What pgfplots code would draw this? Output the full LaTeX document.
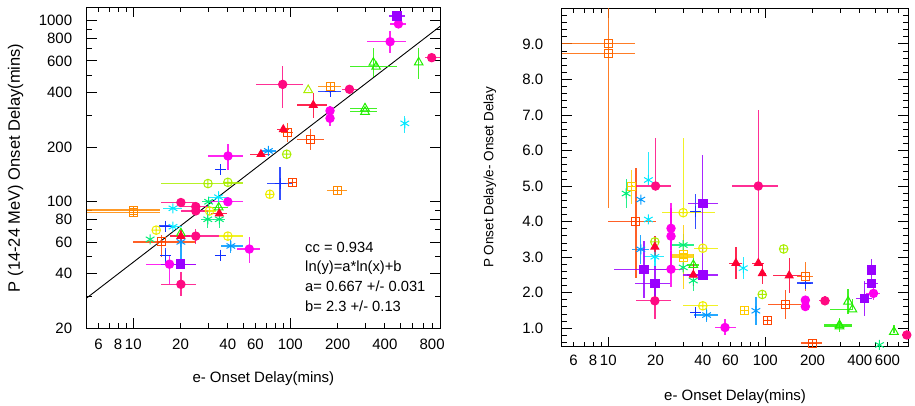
\documentclass[border=0pt]{standalone}
\usepackage{pgfplots}
\pgfplotsset{compat=1.18}
\usepackage{pgfplotstable}
\usepackage{fontspec}
\setmainfont{Liberation Sans}

\pgfdeclareplotmark{boxplus}{%
  \pgfpathrectangle{\pgfqpoint{-\pgfplotmarksize}{-\pgfplotmarksize}}{\pgfqpoint{2\pgfplotmarksize}{2\pgfplotmarksize}}%
  \pgfpathmoveto{\pgfqpoint{-\pgfplotmarksize}{0pt}}\pgfpathlineto{\pgfqpoint{\pgfplotmarksize}{0pt}}%
  \pgfpathmoveto{\pgfqpoint{0pt}{-\pgfplotmarksize}}\pgfpathlineto{\pgfqpoint{0pt}{\pgfplotmarksize}}%
  \pgfusepathqstroke}

\definecolor{cMag}{HTML}{FF00EE}
\definecolor{cPink}{HTML}{FF0A82}
\definecolor{cRed}{HTML}{FF0033}
\definecolor{cOrR}{HTML}{FF4400}
\definecolor{cOr}{HTML}{FF8800}
\definecolor{cOrD}{HTML}{FF6600}
\definecolor{cYsq}{HTML}{FFCC00}
\definecolor{cYel}{HTML}{EEEE00}
\definecolor{cGY}{HTML}{AAEE00}
\definecolor{cGr}{HTML}{22EE00}
\definecolor{cTeal}{HTML}{00EE77}
\definecolor{cCyan}{HTML}{00E8FF}
\definecolor{cAz}{HTML}{0099FF}
\definecolor{cBlue}{HTML}{1030FF}
\definecolor{cPur}{HTML}{9900FF}

\newcommand{\fnt}{\fontsize{15}{18}\selectfont}
\newcommand{\ser}[4]{\addplot[only marks, color=#1, mark=#2, mark size=#3, line width=1pt,
  mark options={solid, line width=1pt},
  error bars/.cd, x dir=both, x explicit, y dir=both, y explicit, error mark=none,
  error bar style={line width=1.3pt, opacity=0.85}]
  table[x=x,y=y,x error minus=xm,x error plus=xp,y error minus=ym,y error plus=yp]{#4};}

% ---------------- left panel data: x y xm xp ym yp
\pgfplotstableread{
x y xm xp ym yp
432 766 123 114 105 115
488 960 58 61 30 30
179 318 0.01 0.01 20 20
179 289 0.01 0.01 27 20
40.1 179 10 10 30 29
40 100 10 10 0.01 0.01
54.8 54.8 9 9 9 9
17 45.2 4.9 8 10 5
}\LM
\pgfplotstableread{
x y xm xp ym yp
89.4 445 29 31 117 116
795 625 75 105 0.01 0.01
238 418 26 26 0.01 0.01
20.1 99 5 5 0.01 0.01
25 94 5 5 5 5
25 89 5 5 5 5
25 64.6 5.2 10 6 6
20.1 35 5 5 5 6
}\LP
\pgfplotstableread{
x y xm xp ym yp
140 342 29 30 53 58
90.2 251 8 8 10 10
65 183 10 9 0.01 0.01
35.3 86 4 4 4 4
20.1 64.6 3 3 5 5
}\LR
\pgfplotstableread{
x y xm xp ym yp
95.6 242 8 8 27 29
135 221 25 29 28 30
104 128 0.01 0.01 0.01 0.01
15.2 60 5.2 9.8 10.3 5.5
}\LOR
\pgfplotstableread{
x y xm xp ym yp
179 432 29 30 0.01 0.01
199 115 29 30 0.01 0.01
10 90 4.95 4.9 0.01 0.01
10 87 4.95 4.9 0.01 0.01
}\LO
\pgfplotstableread{
x y xm xp ym yp
74 110 0.01 0.01 6 6
30.6 89 3 3 3 3
14 69.7 0.01 0.01 0.01 0.01
40 64.6 5 10 0.01 0.01
}\LY
\pgfplotstableread{
x y xm xp ym yp
94.8 183 0.01 0.01 0.01 0.01
29.9 126 14.9 20 0.01 0.01
40 128 0.01 10 0.01 0.01
}\LGY
\pgfplotstableread{
x y xm xp ym yp
130 414 0.01 0.01 0.01 0.01
}\LGYT
\pgfplotstableread{
x y xm xp ym yp
338 586 0.01 0.01 96 118
352 557 112 125 0.01 0.01
657 588 0.01 0.01 112 117
299 328 59 59 0.01 0.01
299 314 59 59 0.01 0.01
35 93 5 5 8 8
20.1 67 0.01 0.01 0.01 0.01
}\LG
\pgfplotstableread{
x y xm xp ym yp
29.8 80 3 3 8 8
35.3 80 3 3 8 8
12.8 62 0.01 0.01 0.01 0.01
30.2 100 3 3 0.01 0.01
}\LT
\pgfplotstableread{
x y xm xp ym yp
536 271 0.01 0.01 30 27
34.9 106 5 5 8 8
17.9 92 2.5 2.5 0.01 0.01
17.9 72.8 2.5 2.5 0.01 0.01
}\LC
\pgfplotstableread{
x y xm xp ym yp
72.5 191 8 8 0.01 0.01
20.1 60 0.01 0.01 12.4 0.01
41.8 57 5.8 8 5 5
}\LA
\pgfplotstableread{
x y xm xp ym yp
179 405 29 30 0.01 0.01
86 126 14.6 17.5 24 30
35.8 150 0.01 0.01 10 10
16.1 73.4 1.5 1.5 0.01 0.01
35.8 50.7 0.01 0.01 0.01 0.01
16.1 50.7 0.01 0.01 5 5
}\LB
\pgfplotstableread{
x y xm xp ym yp
478 1062 53 59 0.01 0.01
19.9 45.2 4.9 5.1 0.01 0.01
}\LPu

% ---------------- right panel data: x ratio xm xp ym yp
\pgfplotstableread{
x y xm xp ym yp
25.1 3.81 0.01 0.01 0.6 0.7
25.1 3.59 0.01 0.01 0.8 0.8
25.1 2.66 5 5 0.5 0.5
55.4 1.02 7.6 9.6 0.2 0.25
180 1.79 0.01 0.01 0.01 0.01
180 1.61 0.01 0.01 0.01 0.01
489 1.98 50 50 0.2 0.2
}\RM
\pgfplotstableread{
x y xm xp ym yp
20 5.0 5 5 0.01 1.35
90.3 5.0 29 30 2.17 2.13
19.8 1.77 4.8 5.2 0.5 0.5
240 1.77 20 20 0.1 0.15
797 0.81 50 50 0.01 0.01
}\RP
\pgfplotstableread{
x y xm xp ym yp
19.8 3.29 0.01 0.01 0.3 0.3
34.8 2.5 3 3 0.3 0.3
65 2.83 6 6 0.45 0.45
90.3 2.83 8 8 0.01 0.01
95.7 2.54 5 5 0.3 0.3
142 2.48 30 30 0.5 0.5
}\RR
\pgfplotstableread{
x y xm xp ym yp
15 4.01 5 5 1.6 1.5
104 1.23 0.01 0.01 0.01 0.01
134 1.67 30 35 0.4 0.4
199 0.58 29 30 0.01 0.01
}\ROR
\pgfplotstableread{
x y xm xp ym yp
10 9.0 4.95 4.8 0.01 0.01
10 8.72 4.95 4.8 4.34 1.4
180 2.45 20 20 0.4 0.4
}\RO
\pgfplotstableread{
x y xm xp ym yp
14.1 5.0 0.01 0.01 0.5 0.45
30 3.06 5 5 0.01 0.01
30 3.0 5 5 0.9 0.9
74 1.49 0.01 0.01 0.01 0.01
}\RYS
\pgfplotstableread{
x y xm xp ym yp
30 4.25 8 18 0.01 2.1
40 3.25 5 10 0.01 0.01
40 1.63 10 10 0.01 0.01
}\RY
\pgfplotstableread{
x y xm xp ym yp
19.8 3.43 0.01 0.01 0.01 0.01
95.7 1.95 0.01 0.01 0.01 0.01
131 3.23 0.01 0.01 0.1 0.1
}\RGY
\pgfplotstableread{
x y xm xp ym yp
34.8 2.78 3 3 0.3 0.3
297 1.09 60 60 0.2 0.2
297 1.05 60 60 0.01 0.01
337 1.75 0.01 0.01 0.35 0.35
359 1.53 100 0.01 0.01 0.3
660 0.9 0.01 0.01 0.01 0.2
}\RG
\pgfplotstableread{
x y xm xp ym yp
13 4.79 0.01 0.01 0.4 0.4
30 3.34 5 5 0.3 0.3
30 2.71 0.01 0.01 0.2 0.2
34.8 2.34 0.01 0.01 0.3 0.3
534 0.53 0.01 0.01 0.01 0.01
}\RT
\pgfplotstableread{
x y xm xp ym yp
18 5.17 0.01 0.01 0.01 0.8
18 4.06 0.01 0.01 0.01 0.01
19.8 3.01 3 3 0.3 0.3
72.4 2.69 0.01 0.01 0.3 0.3
}\RC
\pgfplotstableread{
x y xm xp ym yp
16.1 4.62 0.01 0.01 0.01 0.01
16.1 3.22 2 2 0.4 0.4
42.3 1.37 7 8 0.2 0.2
87.1 1.49 0.01 0.01 0.4 0.4
}\RA
\pgfplotstableread{
x y xm xp ym yp
36 4.28 0.01 0.01 0.5 0.5
36 1.44 3 3 0.01 0.01
180 2.27 20 20 0.01 0.01
}\RB
\pgfplotstableread{
x y xm xp ym yp
40 4.51 8 10 2 1.36
40 2.5 10 10 0.01 0.01
16.9 2.66 6 8 0.8 0.8
19.8 2.26 5 5 0.5 0.5
430 1.84 50 50 0.5 0.5
475 2.64 0.01 0.01 0.3 0.3
475 2.26 50 50 0.01 0.01
}\RPu

\begin{document}
\begin{tikzpicture}
\path[use as bounding box] (0pt,0pt) rectangle (915pt,-406pt);

% ================= LEFT =================
\begin{axis}[scale only axis, anchor=south west,
  at={(86.7pt,-328.3pt)}, width=353.3pt, height=321pt,
  xmode=log, ymode=log,
  xmin=5.05, xmax=898, ymin=20, ymax=1186,
  axis line style={line width=0.8pt}, tick style={line width=0.8pt, black},
  tick align=inside, major tick length=10pt, minor tick length=5pt,
  tick label style={font=\fnt}, label style={font=\fnt},
  xtick={10,100},
  xticklabels={10,100},
  extra x ticks={6,8,20,40,60,200,400,800},
  extra x tick labels={6,8,20,40,60,200,400,800},
  extra x tick style={major tick length=5pt},
  minor xtick={5,7,9,30,50,70,80,90,300,500,600,700},
  xticklabel style={yshift=-7pt},
  ytick={20,40,60,80,100,200,400,600,800,1000},
  yticklabels={20,40,60,80,100,200,400,600,800,1000},
  minor ytick={30,50,70,90,300,500,700,900},
  yticklabel style={xshift=-11pt},
  xlabel={e- Onset Delay(mins)},
  xlabel style={at={(axis description cs:0.5,0)}, anchor=center, yshift=-50pt},
  ylabel={P (14-24 MeV) Onset Delay(mins)},
  ylabel style={at={(axis description cs:0,0.5)}, anchor=center, yshift=71pt, font=\fontsize{16.5}{18}\selectfont},
]
\addplot[black, line width=0.9pt] coordinates {(5.05,29.4) (898,930)};
\ser{cYel}{oplus}{4.3pt}{\LY}
\ser{cGY}{oplus}{4.3pt}{\LGY}
\ser{cGY}{triangle}{5pt}{\LGYT}
\ser{cGr}{triangle}{5pt}{\LG}
\ser{cTeal}{asterisk}{5pt}{\LT}
\ser{cCyan}{asterisk}{5pt}{\LC}
\ser{cAz}{asterisk}{5pt}{\LA}
\ser{cBlue}{+}{5.5pt}{\LB}
\ser{cOr}{boxplus}{4pt}{\LO}
\ser{cOrR}{boxplus}{4pt}{\LOR}
\ser{cRed}{triangle*}{4.5pt}{\LR}
\ser{cPink}{*}{4.2pt}{\LP}
\ser{cMag}{*}{4.2pt}{\LM}
\ser{cPur}{square*}{4.2pt}{\LPu}
\node[anchor=north west, align=left, inner sep=0pt, font=\fontsize{14.7}{19.8}\selectfont]
  at (axis description cs:0.618,0.27)
  {cc = 0.934\\ln(y)=a*ln(x)+b\\a= 0.667 +/- 0.031\\b= 2.3 +/- 0.13};
\end{axis}

% ================= RIGHT =================
\begin{axis}[scale only axis, anchor=south west,
  at={(561.7pt,-346.7pt)}, width=346.6pt, height=338.4pt,
  xmode=log,
  xmin=5.05, xmax=815, ymin=0.48, ymax=10,
  axis line style={line width=0.8pt}, tick style={line width=0.8pt, black},
  tick align=inside, major tick length=10pt, minor tick length=5pt,
  tick label style={font=\fnt}, label style={font=\fnt},
  xtick={10,100},
  xticklabels={10,100},
  extra x ticks={6,8,20,40,60,200,400,600},
  extra x tick labels={6,8,20,40,60,200,400,600},
  extra x tick style={major tick length=5pt},
  minor xtick={5,7,9,30,50,70,80,90,300,500,700},
  xticklabel style={yshift=-5pt},
  ytick={1,2,3,4,5,6,7,8,9},
  yticklabels={1.0,2.0,3.0,4.0,5.0,6.0,7.0,8.0,9.0},
  minor ytick={0.6,0.8,1.2,1.4,1.6,1.8,2.2,2.4,2.6,2.8,3.2,3.4,3.6,3.8,4.2,4.4,4.6,4.8,5.2,5.4,5.6,5.8,6.2,6.4,6.6,6.8,7.2,7.4,7.6,7.8,8.2,8.4,8.6,8.8,9.2,9.4,9.6,9.8},
  yticklabel style={xshift=-15pt},
  xlabel={e- Onset Delay(mins)},
  xlabel style={at={(axis description cs:0.5,0)}, anchor=center, yshift=-50pt},
  ylabel={P Onset Delay/e- Onset Delay},
  ylabel style={at={(axis description cs:0,0.5)}, anchor=center, yshift=71.7pt, font=\fontsize{13.5}{16}\selectfont},
]
\ser{cYel}{oplus}{4.3pt}{\RY}
\ser{cGY}{oplus}{4.3pt}{\RGY}
\ser{cGr}{triangle}{5pt}{\RG}
\ser{cTeal}{asterisk}{5pt}{\RT}
\ser{cCyan}{asterisk}{5pt}{\RC}
\ser{cAz}{asterisk}{5pt}{\RA}
\ser{cBlue}{+}{5.5pt}{\RB}
\ser{cYsq}{boxplus}{4pt}{\RYS}
\ser{cOrD}{boxplus}{4pt}{\RO}
\ser{cOrR}{boxplus}{4pt}{\ROR}
\ser{cRed}{triangle*}{4.5pt}{\RR}
\ser{cPink}{*}{4.2pt}{\RP}
\ser{cMag}{*}{4.2pt}{\RM}
\ser{cPur}{square*}{4.2pt}{\RPu}
\end{axis}
\end{tikzpicture}
\end{document}
